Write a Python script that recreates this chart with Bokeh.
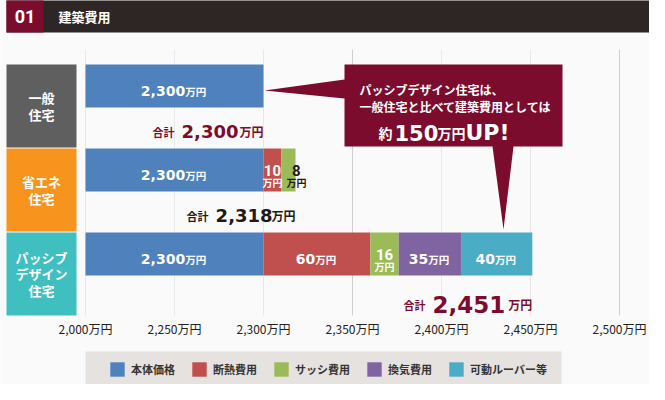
from bokeh.plotting import figure
from bokeh.models import Range1d, LinearAxis, FixedTicker, ColumnDataSource
from bokeh.core.properties import value
from bokeh.embed import file_html
from bokeh.resources import INLINE

# ---------------- data ----------------
categories = ["一般住宅", "省エネ住宅", "パッシブデザイン住宅"]
category_lines = ["一般\n住宅", "省エネ\n住宅", "パッシブ\nデザイン\n住宅"]
category_colors = ["#5f5f5f", "#f7941d", "#3fbfbf"]
series = ["本体価格", "断熱費用", "サッシ費用", "換気費用", "可動ルーバー等"]
series_colors = ["#4f81bd", "#c0504d", "#9bbb59", "#8064a2", "#4bacc6"]
body = [2300, 2300, 2300]
insulation = [0, 10, 60]
sash = [0, 8, 16]
ventilation = [0, 0, 35]
louver = [0, 0, 40]
tick_values = [2000, 2250, 2300, 2350, 2400, 2450, 2500]
tick_labels = ["2,000万円", "2,250万円", "2,300万円", "2,350万円", "2,400万円", "2,450万円", "2,500万円"]
axis_start = 2000
unit = "万円"
total_prefix = "合計"
title_no = "01"
title = "建築費用"
callout_lines = ["パッシブデザイン住宅は、", "一般住宅と比べて建築費用としては"]
callout_parts = ["約", "150", "万円", "UP!"]

# ---------------- layout ----------------
W, H = 649, 384
DX, DY = 4, 6        # shift of the layout so that it fits the figure
PX = 1.78            # pixels per display unit
BREAK = 2250         # axis break: 2000..2250 compressed
def disp(v):
    v = max(float(v), float(axis_start))
    return v if v >= BREAK else 2200.0 + (v - 2000.0) * 0.2

X0 = 2200 - (89 - DX) / PX
X1 = X0 + W / PX
ROW = 84.0
def fx(px):
    return X0 + (px - DX) / PX
def fy(py):
    return (py - 70) / ROW

JP_NAME = "Noto Sans CJK JP"
JP = value(JP_NAME)
NUM = value("DejaVu Sans")
NARROW = value("Roboto")
MAROON = "#7b0c2e"
DARK = "#231815"

def num_width(s, size):
    return sum((0.38 if c == "," else 0.696) * size for c in s)

p = figure(width=W, height=H, x_range=Range1d(X0, X1), y_range=Range1d(fy(DY + H), fy(DY)),
           output_backend="svg", toolbar_location=None, min_border=0,
           x_axis_location=None, y_axis_location=None,
           background_fill_color="#fafafa", border_fill_color="#fafafa",
           outline_line_color=None)
p.grid.visible = False

rows = [float(i) for i in range(len(categories))]
BAR_H = 43 / ROW

# header
p.quad(left=[fx(10)], right=[fx(657)], top=[fy(4)], bottom=[fy(38)], fill_color="#2e2624", line_color=None)
p.quad(left=[fx(10)], right=[fx(47)], top=[fy(4)], bottom=[fy(38)], fill_color=MAROON, line_color=None)
p.text(x=[fx(28.5)], y=[fy(21.5)], text=[title_no], text_align="center", text_baseline="middle",
       text_font=value("Roboto"), text_font_style="bold", text_font_size="18px", text_color="white")
p.text(x=[fx(62)], y=[fy(21.5)], text=[title], text_align="left", text_baseline="middle",
       text_font=JP, text_font_style="bold", text_font_size="13px", text_color="white")

# grid lines
disp_ticks = [disp(t) for t in tick_values]
grid_colors = ["#e8e8e8", "#e8e8e8", "#e8e8e8", "#cfcfcf", "#e8e8e8", "#e8e8e8", "#cfcfcf"]
p.segment(x0=disp_ticks, x1=disp_ticks, y0=[fy(55)] * 7, y1=[fy(321)] * 7,
          line_color=grid_colors, line_width=1)

# category boxes
p.quad(left=[fx(10)] * 3, right=[fx(80)] * 3, top=rows, bottom=[r + 83 / ROW for r in rows],
       fill_color=category_colors, line_color=None)
p.text(x=[fx(45)] * 3, y=[r + 41.5 / ROW for r in rows], text=category_lines,
       text_align="center", text_baseline="middle",
       text_font=JP, text_font_style="bold", text_font_size="13px", text_color="white",
       text_line_height=0.86)

# stacked bars (stacked from 0, clipped at the axis start)
stack = [body, insulation, sash, ventilation, louver]
start = [0.0] * len(categories)
inline = dict(x=[], yb=[], num=[], unit=[], off=[])
stacked = dict(x=[], yn=[], yu=[], num=[], unit=[], off=[], color=[])
for name, vals, col in zip(series, stack, series_colors):
    end = [s + v for s, v in zip(start, vals)]
    left = [disp(s) for s in start]
    right = [disp(e) for e in end]
    src = ColumnDataSource(dict(y=[r + BAR_H / 2 for r in rows], left=left, right=right))
    p.hbar(y="y", left="left", right="right", height=BAR_H, source=src,
           fill_color=col, line_color=None, legend_label=name)
    for r in range(len(categories)):
        v = vals[r]
        if v <= 0:
            continue
        c = (left[r] + right[r]) / 2
        s = f"{int(v):,}"
        wpx = (right[r] - left[r]) * PX
        if wpx >= 40:
            inline["x"].append(c)
            inline["yb"].append(rows[r] + 26.5 / ROW)
            inline["num"].append(s)
            inline["unit"].append(unit)
            inline["off"].append((num_width(s, 14) - 23) / 2)
        else:
            outside = v < 10
            stacked["x"].append(c)
            stacked["yn"].append(rows[r] + 21.5 / ROW)
            stacked["yu"].append(rows[r] + 33.5 / ROW)
            stacked["num"].append(s)
            stacked["unit"].append(unit)
            stacked["off"].append(8 if outside else 0)
            stacked["color"].append(DARK if outside else "white")
    start = end

isrc = ColumnDataSource(inline)
p.text(x="x", y="yb", text="num", x_offset="off", source=isrc, text_align="right",
       text_baseline="alphabetic", text_font=NUM, text_font_style="bold",
       text_font_size="14px", text_color="white")
p.text(x="x", y="yb", text="unit", x_offset="off", source=isrc, text_align="left",
       text_baseline="alphabetic", text_font=JP, text_font_style="bold",
       text_font_size="10.5px", text_color="white")
ssrc = ColumnDataSource(stacked)
p.text(x="x", y="yn", text="num", x_offset="off", source=ssrc, text_align="center",
       text_baseline="alphabetic", text_font=NARROW, text_font_style="bold",
       text_font_size="15px", text_color="color")
p.text(x="x", y="yu", text="unit", x_offset="off", source=ssrc, text_align="center",
       text_baseline="alphabetic", text_font=JP, text_font_style="bold",
       text_font_size="10px", text_color="color")

# totals
totals = [sum(col) for col in zip(*stack)]
tot_num = [f"{int(t):,}" for t in totals]
tot_size = [18, 18, 23]
tot_off = [-25, -23, -27]
tot_base = [67, 67, 72]
tot_color = [MAROON, DARK, MAROON]
tsrc = ColumnDataSource(dict(
    x=[disp(t) for t in totals], y=[r + b / ROW for r, b in zip(rows, tot_base)], num=tot_num,
    unit=[unit] * len(totals), pre=[total_prefix] * len(totals),
    nsize=[f"{s}px" for s in tot_size], usize=["12px", "12px", "12px"],
    noff=tot_off, poff=[o - num_width(n, s) - 7 for o, n, s in zip(tot_off, tot_num, tot_size)],
    color=tot_color))
p.text(x="x", y="y", text="unit", source=tsrc, text_align="right", text_baseline="alphabetic",
       text_font=JP, text_font_style="bold", text_font_size="usize", text_color="color")
p.text(x="x", y="y", text="num", x_offset="noff", source=tsrc, text_align="right",
       text_baseline="alphabetic", text_font=NUM, text_font_style="bold",
       text_font_size="nsize", text_color="color")
p.text(x="x", y="y", text="pre", x_offset="poff", source=tsrc, text_align="right",
       text_baseline="alphabetic", text_font=JP, text_font_style="bold",
       text_font_size="11px", text_color="color")

# callout
tip_l = (disp(totals[0]) + 1 / PX, fy(96))
tip_d = (fx(507), fy(235))
cx = [fx(348), fx(566), fx(566), fx(517), tip_d[0], fx(496), fx(348), fx(348), tip_l[0], fx(348)]
cy = [fy(70), fy(70), fy(152), fy(152), tip_d[1], fy(152), fy(152), fy(104), tip_l[1], fy(85)]
p.patch(cx, cy, fill_color=MAROON, line_color=None)
p.text(x=[fx(363), fx(363)], y=[fy(95), fy(112)], text=callout_lines, text_align="left",
       text_baseline="alphabetic", text_font=JP, text_font_style="bold",
       text_font_size="12px", text_color="white")
part_x = [382, 398, 441, 469]
part_size = ["14px", "21px", "14px", "22px"]
part_font = [JP_NAME, "DejaVu Sans", JP_NAME, "DejaVu Sans"]
for px_, s, sz, f in zip(part_x, callout_parts, part_size, part_font):
    p.text(x=[fx(px_)], y=[fy(138)], text=[s], text_align="left", text_baseline="alphabetic",
           text_font=value(f), text_font_style="bold", text_font_size=sz, text_color="white")

# x axis (inside the frame)
xaxis = LinearAxis(fixed_location=fy(316), ticker=FixedTicker(ticks=disp_ticks),
                   major_label_overrides={t: l for t, l in zip(disp_ticks, tick_labels)},
                   axis_line_color=None, major_tick_line_color=None, minor_tick_line_color=None,
                   major_label_standoff=3, major_label_text_font=JP_NAME,
                   major_label_text_font_size="12px", major_label_text_color="#222222")
p.add_layout(xaxis, "below")

# legend
p.quad(left=[fx(89)], right=[fx(565)], top=[fy(357)], bottom=[fy(392)], fill_color="#e6e2e0", line_color=None)
leg = p.legend[0]
leg.orientation = "horizontal"
leg.location = (112 - DX, 6)
leg.background_fill_alpha = 0
leg.border_line_color = None
leg.padding = 0
leg.margin = 0
leg.spacing = 15
leg.glyph_width = 18
leg.glyph_height = 18
leg.label_height = 18
leg.label_standoff = 5
leg.label_text_font = JP_NAME
leg.label_text_font_style = "bold"
leg.label_text_font_size = "11px"
leg.label_text_color = "#333333"

open("out.html", "w").write(file_html(p, INLINE))
